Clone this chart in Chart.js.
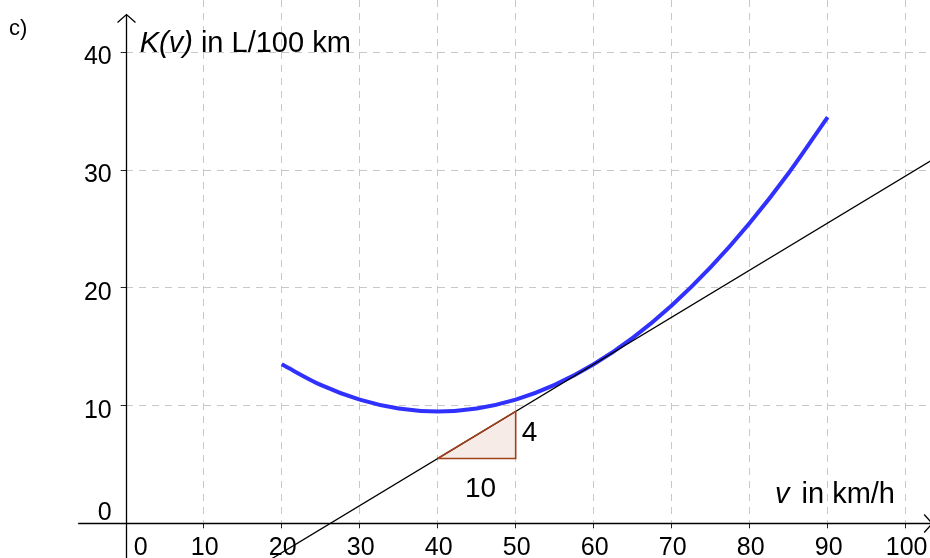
<!DOCTYPE html>
<html>
<head>
<meta charset="utf-8">
<script src="https://cdn.jsdelivr.net/npm/chart.js@4.4.0/dist/chart.umd.min.js"></script>
<style>
  html, body { margin: 0; padding: 0; background: #fff; }
  #wrap { width: 930px; height: 558px; position: relative; }
</style>
</head>
<body>
<div id="wrap"><canvas id="chart"></canvas></div>
<script>
// Fuel consumption K(v)
const speeds = [20, 25, 30, 35, 40, 45, 50, 55, 60, 65, 70, 75, 80, 85, 90];
const consumption = [13.5, 11.75, 10.5, 9.75, 9.5, 9.75, 10.5, 11.75, 13.5, 15.75, 18.5, 21.75, 25.5, 29.75, 34.5];

// Tangent at v = 60
const tangentV = [15, 105];
const tangentK = [-4.5, 31.5];

// Slope triangle
const triangleV = [40, 50, 50, 40];
const triangleK = [5.5, 5.5, 9.5, 5.5];
const triangleLabels = ['4', '10'];

// Axes
const xTicks = [0, 10, 20, 30, 40, 50, 60, 70, 80, 90, 100];
const yTicks = [0, 10, 20, 30, 40];
const xTitle = ['v', ' in km/h'];
const yTitle = ['K(v)', ' in L/100 km'];
const panelLabel = 'c)';

const FONT = '"Liberation Sans", Arial, sans-serif';

const toPoints = (xs, ys) => xs.map((v, i) => ({ x: v, y: ys[i] }));

const axesPlugin = {
    id: 'geoAxes',
    beforeDatasetsDraw(chart) {
        const { ctx, scales: { x, y } } = chart;
        const x0 = Math.round(x.getPixelForValue(0)) + 0.5;
        const y0 = Math.round(y.getPixelForValue(0)) + 0.5;
        const xl = x.getPixelForValue(-6.1);
        const xr = x.getPixelForValue(103.4);
        const yb = y.getPixelForValue(-4);
        const yt = y.getPixelForValue(43.2);

        ctx.save();
        ctx.strokeStyle = '#000';
        ctx.lineWidth = 1.3;
        ctx.beginPath();
        // x axis with open arrow
        ctx.moveTo(xl, y0);
        ctx.lineTo(xr, y0);
        ctx.moveTo(xr - 8, y0 - 9);
        ctx.lineTo(xr, y0);
        ctx.lineTo(xr - 8, y0 + 9);
        // y axis with open arrow
        ctx.moveTo(x0, yb);
        ctx.lineTo(x0, yt);
        ctx.moveTo(x0 - 9, yt + 8);
        ctx.lineTo(x0, yt);
        ctx.lineTo(x0 + 9, yt + 8);
        ctx.stroke();
        ctx.restore();
    },
    afterDraw(chart) {
        const { ctx, scales: { x, y } } = chart;
        const x0 = x.getPixelForValue(0);
        const y0 = y.getPixelForValue(0);

        ctx.save();
        ctx.fillStyle = '#000';
        ctx.textBaseline = 'alphabetic';

        // tick labels
        ctx.font = `25px ${FONT}`;
        ctx.textAlign = 'center';
        xTicks.forEach(v => {
            const px = x.getPixelForValue(v) + (v === 0 ? 15 : 1);
            ctx.fillText(String(v), px, y0 + 32);
        });
        ctx.textAlign = 'right';
        yTicks.forEach(k => {
            const py = k === 0 ? y0 - 3 : y.getPixelForValue(k) + 12;
            ctx.fillText(String(k), x0 - 14, py);
        });

        // axis titles
        ctx.textAlign = 'left';
        let tx = x0 + 14;
        const ty = y.getPixelForValue(40);
        ctx.font = `italic 29px ${FONT}`;
        ctx.fillText(yTitle[0], tx, ty);
        tx += ctx.measureText(yTitle[0]).width;
        ctx.font = `29px ${FONT}`;
        ctx.fillText(yTitle[1], tx, ty);

        ctx.font = `29px ${FONT}`;
        const restW = ctx.measureText(xTitle[1]).width;
        const rx = 895 - restW;
        ctx.fillText(xTitle[1], rx, y0 - 20);
        ctx.font = `italic 29px ${FONT}`;
        const vW = ctx.measureText(xTitle[0]).width;
        ctx.fillText(xTitle[0], rx - vW - 4, y0 - 20);

        // slope triangle labels
        ctx.font = `28px ${FONT}`;
        ctx.textAlign = 'left';
        ctx.fillText(triangleLabels[0], x.getPixelForValue(triangleV[1]) + 6, y.getPixelForValue(6.95));
        ctx.textAlign = 'center';
        ctx.fillText(triangleLabels[1], x.getPixelForValue(45.5), y.getPixelForValue(2.25));

        // panel label
        ctx.font = `22px ${FONT}`;
        ctx.textAlign = 'left';
        ctx.fillText(panelLabel, 9, 35);
        ctx.restore();
    }
};

const gridOptions = {
    color: '#c8c8c8',
    lineWidth: 1,
    drawTicks: true,
    tickLength: 5,
    tickColor: '#222',
    tickBorderDash: [],
    tickWidth: 1
};

const ctx = document.getElementById('chart').getContext('2d');
new Chart(ctx, {
    type: 'scatter',
    data: {
        datasets: [
            {
                // triangle outline (on top)
                data: toPoints(triangleV, triangleK),
                showLine: true,
                borderColor: '#a0401a',
                borderWidth: 1.6,
                pointRadius: 0,
                fill: false,
                clip: false
            },
            {
                // triangle fill under the hypotenuse
                data: toPoints([triangleV[0], triangleV[2]], [triangleK[0], triangleK[2]]),
                showLine: true,
                borderWidth: 0,
                borderColor: 'rgba(0,0,0,0)',
                backgroundColor: 'rgba(170, 70, 30, 0.11)',
                pointRadius: 0,
                fill: { value: triangleK[0] }
            },
            {
                data: toPoints(tangentV, tangentK),
                showLine: true,
                borderColor: '#000',
                borderWidth: 1.3,
                pointRadius: 0,
                clip: false
            },
            {
                data: toPoints(speeds, consumption),
                showLine: true,
                borderColor: '#3131ff',
                borderWidth: 4,
                pointRadius: 0,
                cubicInterpolationMode: 'monotone',
                clip: false
            }
        ]
    },
    options: {
        responsive: true,
        maintainAspectRatio: false,
        animation: false,
        layout: {
            padding: { left: 120.7, bottom: 29.7, top: 0, right: 0 }
        },
        plugins: {
            legend: { display: false },
            tooltip: { enabled: false }
        },
        scales: {
            x: {
                type: 'linear',
                min: 0,
                max: 103.12,
                afterBuildTicks: scale => {
                    scale.ticks = xTicks.filter(v => v !== 0).map(value => ({ value }));
                },
                ticks: { display: false },
                border: { display: false, dash: [7, 6] },
                grid: gridOptions
            },
            y: {
                type: 'linear',
                min: 0,
                max: 44.44,
                afterBuildTicks: scale => {
                    scale.ticks = yTicks.filter(v => v !== 0).map(value => ({ value }));
                },
                ticks: { display: false },
                border: { display: false, dash: [7, 6] },
                grid: gridOptions
            }
        }
    },
    plugins: [axesPlugin]
});
</script>
</body>
</html>
